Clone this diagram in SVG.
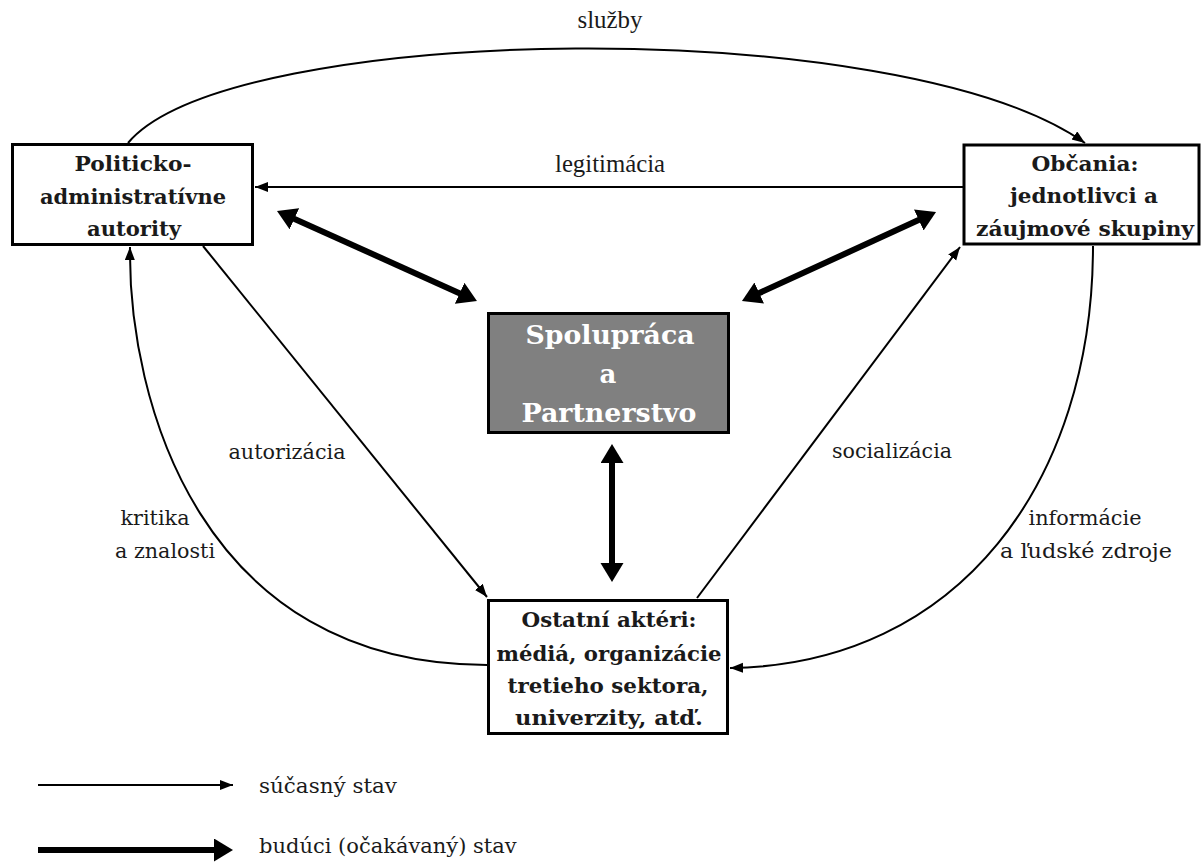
<svg xmlns="http://www.w3.org/2000/svg" width="1203" height="866" viewBox="0 0 1203 866">
<style>
.box{fill:#fff;stroke:#000;stroke-width:3}
.core{fill:#808080;stroke:#000;stroke-width:3}
.bt{font-family:"DejaVu Serif","Liberation Serif",serif;font-weight:bold;font-size:21px;fill:#1a1a1a;text-anchor:middle}
.ct{font-family:"DejaVu Serif","Liberation Serif",serif;font-weight:bold;font-size:26px;fill:#fff;text-anchor:middle}
.lb{font-family:"DejaVu Serif","Liberation Serif",serif;font-size:21px;fill:#1a1a1a;text-anchor:middle}
.lt{font-family:"Liberation Serif","Times New Roman",serif;font-size:25px;fill:#1a1a1a;text-anchor:middle}
.lg{font-family:"DejaVu Serif","Liberation Serif",serif;font-size:21px;fill:#1a1a1a}
.thin{fill:none;stroke:#000;stroke-width:2}
.thick{fill:none;stroke:#000;stroke-width:6}
</style>
<defs>
<marker id="ah" markerUnits="userSpaceOnUse" markerWidth="15" markerHeight="11" refX="13" refY="5" orient="auto">
<path d="M0,0 L13,5 L0,10 z" fill="#000"/>
</marker>
<marker id="ahT" markerUnits="userSpaceOnUse" markerWidth="20" markerHeight="24" refX="4" refY="11.5" orient="auto-start-reverse">
<path d="M0,0 L19,11.5 L0,23 z" fill="#000"/>
</marker>
</defs>

<g id="node-autority">
<rect class="box" x="12.5" y="144.5" width="240" height="100"/>
<text class="bt" x="133" y="171" textLength="117" lengthAdjust="spacingAndGlyphs">Politicko-</text>
<text class="bt" x="133" y="204" textLength="186" lengthAdjust="spacingAndGlyphs">administratívne</text>
<text class="bt" x="134" y="236" textLength="94" lengthAdjust="spacingAndGlyphs">autority</text>
</g>

<g id="node-obcania">
<rect class="box" x="964" y="145" width="235" height="99"/>
<text class="bt" x="1085" y="171" textLength="107" lengthAdjust="spacingAndGlyphs">Občania:</text>
<text class="bt" x="1084" y="203" textLength="148" lengthAdjust="spacingAndGlyphs">jednotlivci a</text>
<text class="bt" x="1085" y="236" textLength="218" lengthAdjust="spacingAndGlyphs">záujmové skupiny</text>
</g>

<g id="node-spolupraca">
<rect class="core" x="488.5" y="313.5" width="240" height="119"/>
<text class="ct" x="610" y="344" textLength="169" lengthAdjust="spacingAndGlyphs">Spolupráca</text>
<text class="ct" x="608" y="383">a</text>
<text class="ct" x="609" y="422" textLength="175" lengthAdjust="spacingAndGlyphs">Partnerstvo</text>
</g>

<g id="node-ostatni">
<rect class="box" x="488.5" y="600.5" width="239" height="133"/>
<text class="bt" x="609" y="627" textLength="175" lengthAdjust="spacingAndGlyphs">Ostatní aktéri:</text>
<text class="bt" x="609" y="661" textLength="225" lengthAdjust="spacingAndGlyphs">médiá, organizácie</text>
<text class="bt" x="608" y="693" textLength="201" lengthAdjust="spacingAndGlyphs">tretieho sektora,</text>
<text class="bt" x="609" y="725" textLength="188" lengthAdjust="spacingAndGlyphs">univerzity, atď.</text>
</g>

<g id="connectors">
<path class="thin" d="M128,143 C230,22 900,12 1085,143" marker-end="url(#ah)"/>
<line class="thin" x1="963" y1="187" x2="255" y2="187" marker-end="url(#ah)"/>
<line class="thin" x1="203" y1="246" x2="487" y2="597" marker-end="url(#ah)"/>
<path class="thin" d="M487,665 C200,665 128,400 130,247" marker-end="url(#ah)"/>
<line class="thin" x1="697" y1="598" x2="960" y2="247" marker-end="url(#ah)"/>
<path class="thin" d="M1093,246 C1093,480 960,665 730,668" marker-end="url(#ah)"/>
<line class="thick" x1="290.7" y1="217.2" x2="463.3" y2="294.9" marker-start="url(#ahT)" marker-end="url(#ahT)"/>
<line class="thick" x1="922.4" y1="218.3" x2="755.6" y2="294.7" marker-start="url(#ahT)" marker-end="url(#ahT)"/>
<line class="thick" x1="612" y1="459" x2="612" y2="567" marker-start="url(#ahT)" marker-end="url(#ahT)"/>
</g>

<g id="labels">
<text class="lt" x="610" y="28" textLength="65" lengthAdjust="spacingAndGlyphs">služby</text>
<text class="lt" x="610" y="172" textLength="110" lengthAdjust="spacingAndGlyphs">legitimácia</text>
<text class="lb" x="287" y="459" textLength="117" lengthAdjust="spacingAndGlyphs">autorizácia</text>
<text class="lb" x="155" y="525" textLength="69" lengthAdjust="spacingAndGlyphs">kritika</text>
<text class="lb" x="165" y="558" textLength="100" lengthAdjust="spacingAndGlyphs">a znalosti</text>
<text class="lb" x="892" y="458" textLength="120" lengthAdjust="spacingAndGlyphs">socializácia</text>
<text class="lb" x="1085" y="525" textLength="113" lengthAdjust="spacingAndGlyphs">informácie</text>
<text class="lb" x="1086" y="558" textLength="172" lengthAdjust="spacingAndGlyphs">a ľudské zdroje</text>
</g>

<g id="legend">
<line class="thin" x1="38" y1="785" x2="233" y2="785" marker-end="url(#ah)"/>
<line class="thick" x1="38" y1="850" x2="218" y2="850" marker-end="url(#ahT)"/>
<text class="lg" x="259" y="793" textLength="138" lengthAdjust="spacingAndGlyphs">súčasný stav</text>
<text class="lg" x="259" y="853">budúci (očakávaný) stav</text>
</g>
</svg>
